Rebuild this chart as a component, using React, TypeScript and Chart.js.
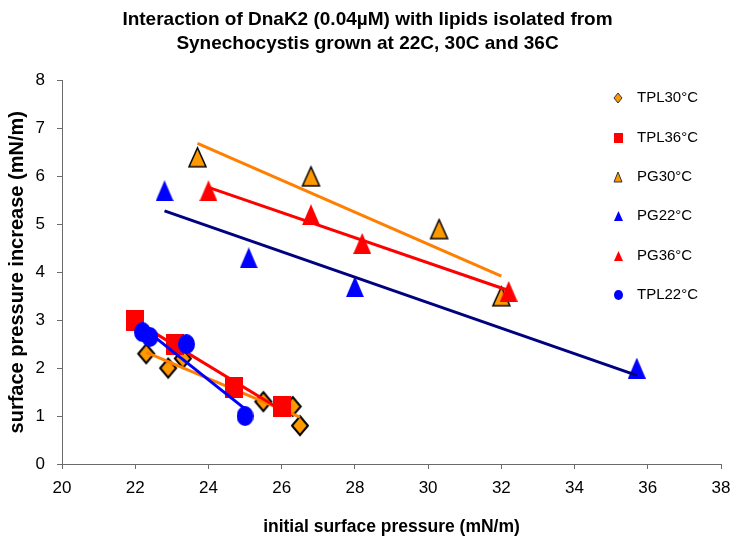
import React, { useEffect, useRef } from 'react';
import { Chart, registerables } from 'chart.js';

Chart.register(...registerables);

const titleLines = [
  'Interaction of DnaK2 (0.04µM) with lipids isolated from',
  'Synechocystis grown at 22C, 30C and 36C',
];
const xAxisTitle = 'initial surface pressure (mN/m)';
const yAxisTitle = 'surface pressure increase (mN/m)';

const seriesNames = ['TPL30°C', 'TPL36°C', 'PG30°C', 'PG22°C', 'PG36°C', 'TPL22°C'];

const xTicks = [20, 22, 24, 26, 28, 30, 32, 34, 36, 38];
const yTicks = [0, 1, 2, 3, 4, 5, 6, 7, 8];

// series values
const tpl30X = [22.3, 22.9, 23.3, 25.5, 26.3, 26.5];
const tpl30Y = [2.3, 2.0, 2.2, 1.3, 1.2, 0.8];
const tpl36X = [22.0, 23.1, 24.7, 26.0];
const tpl36Y = [3.0, 2.5, 1.6, 1.2];
const pg30X = [23.7, 26.8, 30.3, 32.0];
const pg30Y = [6.4, 6.0, 4.9, 3.5];
const pg22X = [22.8, 25.1, 28.0, 35.7];
const pg22Y = [5.7, 4.3, 3.7, 2.0];
const pg36X = [24.0, 26.8, 28.2, 32.2];
const pg36Y = [5.7, 5.2, 4.6, 3.6];
const tpl22X = [22.2, 22.4, 23.4, 25.0];
const tpl22Y = [2.75, 2.65, 2.5, 1.0];

// trend line end points
const tpl30TrendX = [22.3, 26.5];
const tpl30TrendY = [2.33, 0.98];
const tpl36TrendX = [22.0, 26.0];
const tpl36TrendY = [2.98, 1.12];
const pg30TrendX = [23.7, 32.0];
const pg30TrendY = [6.69, 3.92];
const pg22TrendX = [22.8, 35.7];
const pg22TrendY = [5.28, 1.85];
const pg36TrendX = [24.0, 32.2];
const pg36TrendY = [5.77, 3.62];
const tpl22TrendX = [22.2, 25.0];
const tpl22TrendY = [2.85, 1.15];

const FONT = '"Liberation Sans", Arial, sans-serif';

type Shape = 'diamond' | 'square' | 'triangle' | 'circle';

function makeMarker(shape: Shape, w: number, h: number, fill: string, stroke: string | null, lw: number) {
  const pad = stroke ? Math.ceil(lw) : 0;
  const c = document.createElement('canvas');
  c.width = w + 2 * pad;
  c.height = h + 2 * pad;
  const ctx = c.getContext('2d')!;
  ctx.translate(pad, pad);
  ctx.beginPath();
  if (shape === 'diamond') {
    ctx.moveTo(w / 2, 0);
    ctx.lineTo(w, h / 2);
    ctx.lineTo(w / 2, h);
    ctx.lineTo(0, h / 2);
    ctx.closePath();
  } else if (shape === 'square') {
    ctx.rect(0, 0, w, h);
  } else if (shape === 'triangle') {
    ctx.moveTo(w / 2, 0);
    ctx.lineTo(w, h);
    ctx.lineTo(0, h);
    ctx.closePath();
  } else {
    ctx.ellipse(w / 2, h / 2, w / 2, h / 2, 0, 0, Math.PI * 2);
  }
  ctx.fillStyle = fill;
  ctx.fill();
  if (stroke) {
    ctx.lineWidth = lw;
    ctx.strokeStyle = stroke;
    ctx.lineJoin = 'miter';
    ctx.stroke();
  }
  return c;
}

const toPoints = (xs: number[], ys: number[]) => xs.map((x, i) => ({ x, y: ys[i] }));

export default function App() {
  const ref = useRef<HTMLCanvasElement>(null);

  useEffect(() => {
    const canvas = ref.current;
    if (!canvas) return;
    Chart.defaults.font.family = FONT;

    const ORANGE = '#FF9900';
    const LINE_ORANGE = '#FF7F00';

    const markers = [
      makeMarker('diamond', 16, 19, ORANGE, '#000', 2),
      makeMarker('square', 18, 21, '#FF0000', null, 0),
      makeMarker('triangle', 17, 19, ORANGE, '#000', 1.5),
      makeMarker('triangle', 18, 21, '#0000FF', null, 0),
      makeMarker('triangle', 18, 21, '#FF0000', null, 0),
      makeMarker('circle', 17, 20, '#0000FF', null, 0),
    ];
    const legendMarkers = [
      makeMarker('diamond', 8, 10, ORANGE, '#333', 1),
      makeMarker('square', 9, 10, '#FF0000', null, 0),
      makeMarker('triangle', 8, 10, ORANGE, '#333', 1),
      makeMarker('triangle', 9, 10, '#0000FF', null, 0),
      makeMarker('triangle', 9, 10, '#FF0000', null, 0),
      makeMarker('circle', 9, 10, '#0000FF', null, 0),
    ];

    const seriesPts = [
      toPoints(tpl30X, tpl30Y),
      toPoints(tpl36X, tpl36Y),
      toPoints(pg30X, pg30Y),
      toPoints(pg22X, pg22Y),
      toPoints(pg36X, pg36Y),
      toPoints(tpl22X, tpl22Y),
    ];
    const trendPts = [
      toPoints(tpl30TrendX, tpl30TrendY),
      toPoints(tpl36TrendX, tpl36TrendY),
      toPoints(pg30TrendX, pg30TrendY),
      toPoints(pg22TrendX, pg22TrendY),
      toPoints(pg36TrendX, pg36TrendY),
      toPoints(tpl22TrendX, tpl22TrendY),
    ];
    const trendColors = [LINE_ORANGE, '#FF0000', LINE_ORANGE, '#000080', '#FF0000', '#0000FF'];

    const datasets: any[] = [];
    seriesNames.forEach((name, i) => {
      datasets.push({
        label: name,
        data: seriesPts[i],
        pointStyle: markers[i],
        pointRadius: 10,
        showLine: false,
        order: 2 * (6 - i) + 1,
      });
      datasets.push({
        label: name + ' trend',
        data: trendPts[i],
        showLine: true,
        pointRadius: 0,
        borderColor: trendColors[i],
        borderWidth: 3,
        fill: false,
        order: 2 * (6 - i),
      });
    });

    const legendPlugin = {
      id: 'customLegend',
      afterDraw(chart: any) {
        const ctx = chart.ctx as CanvasRenderingContext2D;
        const top = 98.3;
        const gap = 39.3;
        const markerX = 618;
        const textX = 637;
        ctx.save();
        ctx.font = `15px ${FONT}`;
        ctx.fillStyle = '#000';
        ctx.textBaseline = 'middle';
        ctx.textAlign = 'left';
        seriesNames.forEach((name, i) => {
          const y = top + i * gap;
          const img = legendMarkers[i];
          ctx.drawImage(img, Math.round(markerX - img.width / 2), Math.round(y - img.height / 2));
          ctx.fillText(name, textX, y);
        });
        ctx.restore();
      },
    };

    const axisColor = '#6b6b6b';

    const chart = new Chart(canvas, {
      type: 'scatter',
      data: { datasets },
      plugins: [legendPlugin],
      options: {
        responsive: false,
        animation: false,
        events: [],
        layout: { padding: 0 },
        plugins: {
          legend: { display: false },
          tooltip: { enabled: false },
          title: {
            display: true,
            text: titleLines,
            color: '#000',
            font: { size: 19, weight: 'bold', family: FONT, lineHeight: 1.25 },
            padding: { top: 8, bottom: 25 },
          },
        },
        scales: {
          x: {
            type: 'linear',
            position: 'bottom',
            min: 20,
            max: 38,
            afterBuildTicks: (s: any) => {
              s.ticks = xTicks.map((v) => ({ value: v }));
            },
            afterFit: (s: any) => {
              s.height = 79;
            },
            ticks: { color: '#000', font: { size: 17, lineHeight: 1.79 }, padding: 4, maxRotation: 0 },
            grid: { drawOnChartArea: false, drawTicks: true, tickLength: 5, color: axisColor },
            border: { color: axisColor, width: 1 },
            title: {
              display: true,
              text: xAxisTitle,
              color: '#000',
              font: { size: 17.5, weight: 'bold' },
              padding: { top: 0, bottom: 5 },
            },
          },
          y: {
            type: 'linear',
            position: 'left',
            min: 0,
            max: 8,
            afterBuildTicks: (s: any) => {
              s.ticks = yTicks.map((v) => ({ value: v }));
            },
            afterFit: (s: any) => {
              s.width = 62;
            },
            ticks: { color: '#000', font: { size: 17 }, padding: 12 },
            grid: { drawOnChartArea: false, drawTicks: true, tickLength: 5, color: axisColor },
            border: { color: axisColor, width: 1 },
            title: {
              display: true,
              text: yAxisTitle,
              color: '#000',
              font: { size: 20, weight: 'bold' },
              padding: { top: 5, bottom: 0 },
            },
          },
          yRightSpacer: {
            type: 'linear',
            position: 'right',
            min: 0,
            max: 8,
            display: true,
            ticks: { display: false },
            grid: { display: false, drawTicks: false },
            border: { display: false },
            afterFit: (s: any) => {
              s.width = 14;
            },
          },
        },
      } as any,
    });

    return () => chart.destroy();
  }, []);

  return (
    <div style={{ position: 'absolute', left: 0, top: 0, width: 735, height: 543, background: '#fff' }}>
      <canvas ref={ref} width={735} height={543} style={{ display: 'block' }} />
    </div>
  );
}
